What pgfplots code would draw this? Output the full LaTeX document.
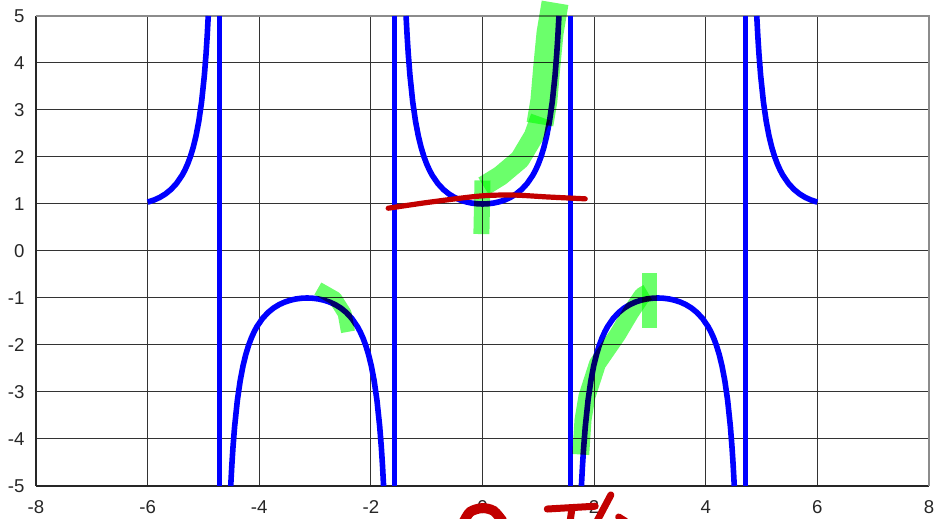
\documentclass[border=0pt]{standalone}
\usepackage{fontspec}
\setmainfont{Liberation Sans}
\usepackage{pgfplots}
\pgfplotsset{compat=1.18}
\definecolor{sblue}{rgb}{0,0,1}
\definecolor{hl}{rgb}{0.42,1,0.42}
\definecolor{ink}{rgb}{0.76,0,0}
\begin{document}
\begin{tikzpicture}
\begin{axis}[
  scale only axis, width=446.5pt, height=235pt,
  xmin=-8, xmax=8, ymin=-5, ymax=5,
  xtick={-8,-6,...,8}, ytick={-5,-4,...,5},
  grid=major, major grid style={black!80, line width=0.5pt},
  axis x line*=bottom, axis y line*=left,
  axis line style={black!85, line width=0.6pt, -},
  major tick length=0pt,
  clip=false,
  tick label style={font=\fontsize{9.3}{11}\selectfont, text=black!85},
  /pgf/number format/assume math mode=true,
  xticklabel shift=3.8pt, yticklabel shift=2.2pt,
]
\draw[black!45, line width=0.6pt] (rel axis cs:0,1) -- (rel axis cs:1,1) -- (rel axis cs:1,0);
% branch 1
\addplot[sblue, line width=2.8pt] table {
x y
-6.0000 1.0415
-5.9832 1.0467
-5.8832 1.0857
-5.7832 1.1395
-5.6832 1.2116
-5.5832 1.3075
-5.4832 1.4353
-5.3832 1.6087
-5.3332 1.7192
-5.2832 1.8508
-5.2332 2.0098
-5.1832 2.2046
-5.1332 2.4481
-5.0832 2.7597
-5.0332 3.1714
-4.9832 3.7383
-4.9532 4.1932
-4.9332 4.5661
-4.9138 5.0000
};
% branch 2
\addplot[sblue, line width=2.8pt] table {
x y
-4.5110 -5.0000
-4.4916 -4.5661
-4.4716 -4.1932
-4.4416 -3.7383
-4.3916 -3.1714
-4.3416 -2.7597
-4.2916 -2.4481
-4.2416 -2.2046
-4.1916 -2.0098
-4.1416 -1.8508
-4.0916 -1.7192
-4.0416 -1.6087
-3.9416 -1.4353
-3.8416 -1.3075
-3.7416 -1.2116
-3.6416 -1.1395
-3.5416 -1.0857
-3.4416 -1.0467
-3.3416 -1.0203
-3.2416 -1.0050
-3.1416 -1.0000
-3.0416 -1.0050
-2.9416 -1.0203
-2.8416 -1.0467
-2.7416 -1.0857
-2.6416 -1.1395
-2.5416 -1.2116
-2.4416 -1.3075
-2.3416 -1.4353
-2.2416 -1.6087
-2.1916 -1.7192
-2.1416 -1.8508
-2.0916 -2.0098
-2.0416 -2.2046
-1.9916 -2.4481
-1.9416 -2.7597
-1.8916 -3.1714
-1.8416 -3.7383
-1.8116 -4.1932
-1.7916 -4.5661
-1.7722 -5.0000
};
% branch 3
\addplot[sblue, line width=2.8pt] table {
x y
-1.3694 5.0000
-1.3500 4.5661
-1.3300 4.1932
-1.3000 3.7383
-1.2500 3.1714
-1.2000 2.7597
-1.1500 2.4481
-1.1000 2.2046
-1.0500 2.0098
-1.0000 1.8508
-0.9500 1.7192
-0.9000 1.6087
-0.8000 1.4353
-0.7000 1.3075
-0.6000 1.2116
-0.5000 1.1395
-0.4000 1.0857
-0.3000 1.0467
-0.2000 1.0203
-0.1000 1.0050
0.0000 1.0000
0.1000 1.0050
0.2000 1.0203
0.3000 1.0467
0.4000 1.0857
0.5000 1.1395
0.6000 1.2116
0.7000 1.3075
0.8000 1.4353
0.9000 1.6087
0.9500 1.7192
1.0000 1.8508
1.0500 2.0098
1.1000 2.2046
1.1500 2.4481
1.2000 2.7597
1.2500 3.1714
1.3000 3.7383
1.3300 4.1932
1.3500 4.5661
1.3694 5.0000
};
% branch 4
\addplot[sblue, line width=2.8pt] table {
x y
1.7722 -5.0000
1.7916 -4.5661
1.8116 -4.1932
1.8416 -3.7383
1.8916 -3.1714
1.9416 -2.7597
1.9916 -2.4481
2.0416 -2.2046
2.0916 -2.0098
2.1416 -1.8508
2.1916 -1.7192
2.2416 -1.6087
2.3416 -1.4353
2.4416 -1.3075
2.5416 -1.2116
2.6416 -1.1395
2.7416 -1.0857
2.8416 -1.0467
2.9416 -1.0203
3.0416 -1.0050
3.1416 -1.0000
3.2416 -1.0050
3.3416 -1.0203
3.4416 -1.0467
3.5416 -1.0857
3.6416 -1.1395
3.7416 -1.2116
3.8416 -1.3075
3.9416 -1.4353
4.0416 -1.6087
4.0916 -1.7192
4.1416 -1.8508
4.1916 -2.0098
4.2416 -2.2046
4.2916 -2.4481
4.3416 -2.7597
4.3916 -3.1714
4.4416 -3.7383
4.4716 -4.1932
4.4916 -4.5661
4.5110 -5.0000
};
% branch 5
\addplot[sblue, line width=2.8pt] table {
x y
4.9138 5.0000
4.9332 4.5661
4.9532 4.1932
4.9832 3.7383
5.0332 3.1714
5.0832 2.7597
5.1332 2.4481
5.1832 2.2046
5.2332 2.0098
5.2832 1.8508
5.3332 1.7192
5.3832 1.6087
5.4832 1.4353
5.5832 1.3075
5.6832 1.2116
5.7832 1.1395
5.8832 1.0857
5.9832 1.0467
6.0000 1.0415
};
% asymptote jumps
\addplot[sblue, line width=2.6pt] coordinates {(-4.7124,5) (-4.7124,-5)};
\addplot[sblue, line width=2.6pt] coordinates {(-1.5708,-5) (-1.5708,5)};
\addplot[sblue, line width=2.6pt] coordinates {(1.5708,5) (1.5708,-5)};
\addplot[sblue, line width=2.6pt] coordinates {(4.7124,-5) (4.7124,5)};
% highlighter strokes
\addplot[hl, line width=8pt, blend mode=multiply, line join=round] coordinates {(-0.02,0.36) (0.0,1.50)};
\addplot[hl, line width=10pt, blend mode=multiply, line join=round] coordinates {(0.02,1.38) (0.32,1.60) (0.67,1.95) (0.92,2.45) (1.04,2.85)};
\addplot[hl, line width=13.5pt, blend mode=multiply, line join=round] coordinates {(1.03,2.70) (1.10,3.20) (1.15,3.90) (1.21,4.64) (1.30,5.28)};
\addplot[hl, line width=7pt, blend mode=multiply, line join=round] coordinates {(-2.95,-0.80) (-2.64,-1.01) (-2.47,-1.33) (-2.41,-1.72)};
\addplot[hl, line width=8.5pt, blend mode=multiply, line join=round] coordinates {(1.76,-4.33) (1.80,-3.60) (1.87,-3.10) (2.06,-2.40) (2.42,-1.78) (2.66,-1.30) (2.86,-0.95) (2.96,-0.88)};
\addplot[hl, line width=7.5pt, blend mode=multiply, line join=round] coordinates {(3.0,-0.47) (3.0,-1.64)};
% red ink
\addplot[ink, line width=2.6pt, smooth, line cap=round] coordinates {(-1.69,0.91) (-0.94,1.04) (-0.04,1.17) (0.55,1.19) (1.16,1.15) (1.84,1.11)};
\addplot[ink, line width=5pt, smooth] coordinates {(-0.33,-5.75) (-0.22,-5.55) (-0.007,-5.47) (0.2,-5.53) (0.36,-5.75)};
\addplot[ink, line width=3.5pt, line cap=round] coordinates {(1.16,-5.49) (2.02,-5.43)};
\addplot[ink, line width=3.5pt] coordinates {(1.60,-5.50) (1.57,-5.75)};
\addplot[ink, line width=3.5pt, line cap=round] coordinates {(2.30,-5.19) (2.05,-5.75)};
\addplot[ink, line width=3.5pt, line cap=round] coordinates {(2.44,-5.66) (2.56,-5.75)};
\end{axis}
\pgfresetboundingbox
\path[use as bounding box] ([shift={(-18pt,-16.5pt)}]current axis.south west) rectangle ([shift={(3pt,8pt)}]current axis.north east);
\end{tikzpicture}
\end{document}
